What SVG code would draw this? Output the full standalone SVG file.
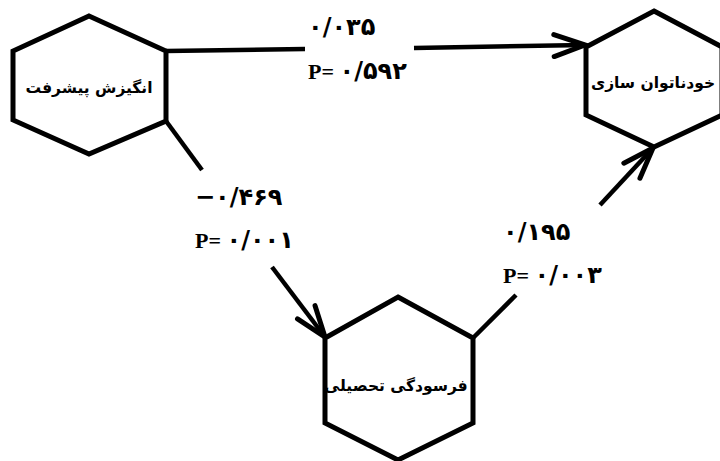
<svg xmlns="http://www.w3.org/2000/svg" width="720" height="461" viewBox="0 0 720 461">
<style>
.hex{fill:#fff;stroke:#000;stroke-width:5;stroke-linejoin:miter}
.con{fill:none;stroke:#000;stroke-width:4.5;stroke-linecap:butt}
.lbl{font-family:"DejaVu Sans","Noto Sans",sans-serif;font-weight:bold;font-size:15.5px;fill:#000}
.num{font-family:"Liberation Serif","DejaVu Serif","DejaVu Sans",serif;font-weight:bold;font-size:22px;fill:#000;direction:ltr;unicode-bidi:bidi-override}
.dg{font-family:"DejaVu Sans",sans-serif;font-size:24px}
</style>
<defs>
<marker id="arr" markerUnits="userSpaceOnUse" markerWidth="50" markerHeight="50" refX="0" refY="0" viewBox="-40 -25 50 50" orient="auto" overflow="visible">
<path d="M-31,-11 L0,0 L-31,11" fill="none" stroke="#000" stroke-width="5" stroke-linecap="round" stroke-linejoin="miter"/>
</marker>
</defs>
<rect width="720" height="461" fill="#fff"/>
<g id="connectors">
<line class="con" x1="166" y1="51" x2="305" y2="49"/>
<line class="con" x1="414" y1="48" x2="585" y2="45" marker-end="url(#arr)"/>
<line class="con" x1="166" y1="121" x2="202" y2="170"/>
<line class="con" x1="272" y1="267" x2="325" y2="337" marker-end="url(#arr)"/>
<line class="con" x1="473" y1="338" x2="516" y2="295"/>
<line class="con" x1="600" y1="205" x2="653" y2="148" marker-end="url(#arr)"/>
</g>
<g id="node-motivation">
<polygon class="hex" points="89,16 166,51 166,121 89,154 13,120 13,51"/>
<text class="lbl" x="89" y="93" text-anchor="middle">انگیزش پیشرفت</text>
</g>
<g id="node-selfhandicap">
<polygon class="hex" points="654,11 722,47 722,115 654,147 586,115 586,47"/>
<text class="lbl" x="653" y="88" text-anchor="middle">خودناتوان سازی</text>
</g>
<g id="node-burnout">
<polygon class="hex" points="398,297 473,338 473,423 398,460 325,423 325,338"/>
<text class="lbl" x="396" y="391" text-anchor="middle">فرسودگی تحصیلی</text>
</g>
<g id="labels">
<text class="num" x="308" y="35"><tspan class="dg">۰/۰۳۵</tspan></text>
<text class="num" x="308" y="79">P= <tspan class="dg">۰/۵۹۲</tspan></text>
<text class="num" x="195" y="205"><tspan class="dg">−۰/۴۶۹</tspan></text>
<text class="num" x="195" y="248">P= <tspan class="dg">۰/۰۰۱</tspan></text>
<text class="num" x="503" y="240"><tspan class="dg">۰/۱۹۵</tspan></text>
<text class="num" x="503" y="283">P= <tspan class="dg">۰/۰۰۳</tspan></text>
</g>
</svg>
